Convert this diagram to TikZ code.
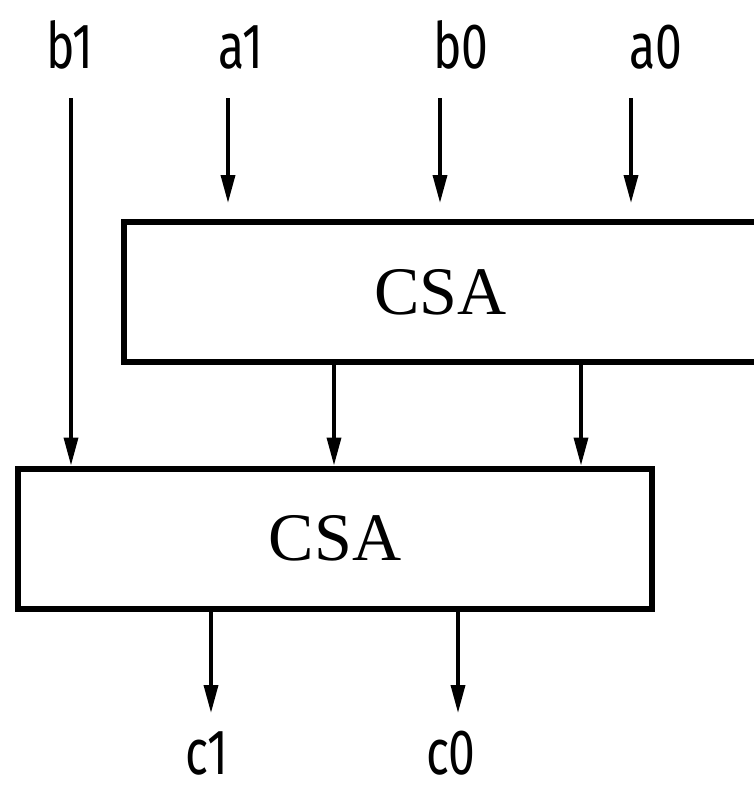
\documentclass[tikz,border=0pt]{standalone}
\usepackage{fontspec}
\setmainfont{Liberation Serif}
\newfontfamily\sigfont[FakeStretch=0.75]{Fira Sans}
\usetikzlibrary{arrows.meta}
\usetikzlibrary{calc}

\begin{document}
\begin{tikzpicture}[x=1pt, y=-1pt,
    csabox/.style={draw, line width=6pt, minimum width=634pt, minimum height=140pt,
      inner sep=0pt, font=\fontsize{68}{70}\selectfont},
    sig/.style={font=\sigfont\fontsize{64}{66}\selectfont, inner sep=0pt, anchor=base},
    wire/.style={line width=3.5pt, -{Triangle[length=28pt, width=14pt]}}]
    \useasboundingbox (0,0) rectangle (754,793);

    % the two adders
    \node[csabox] (csa1) at (440.5,292) {CSA};
    \node[csabox] (csa2) at (335,538.5) {CSA};

    % inputs
    \node[sig] (b1) at (70,68) {b1};
    \coordinate (b1s) at (71,98);
    \draw[wire] (b1s) -- (b1s |- csa2.north);
    \foreach \s/\x/\lx in {a1/228/241, b0/440/461, a0/631/656} {
      \node[sig] (\s) at (\lx,68) {\s};
      \coordinate (\s s) at (\x,98);
      \coordinate (\s e) at (\x,203);
      \draw[wire] (\s s) -- (\s e);
    }

    % carry and sum between the adders
    \foreach \x in {334,581} {
      \draw[wire] (\x,0 |- csa1.south) -- (\x,0 |- csa2.north);
    }

    % outputs
    \foreach \s/\x/\lx in {c1/211/207, c0/458/451} {
      \node[sig] (\s) at (\lx,774) {\s};
      \coordinate (\s e) at (\x,713);
      \draw[wire] (\x,0 |- csa2.south) -- (\s e);
    }
  \end{tikzpicture}
\end{document}
